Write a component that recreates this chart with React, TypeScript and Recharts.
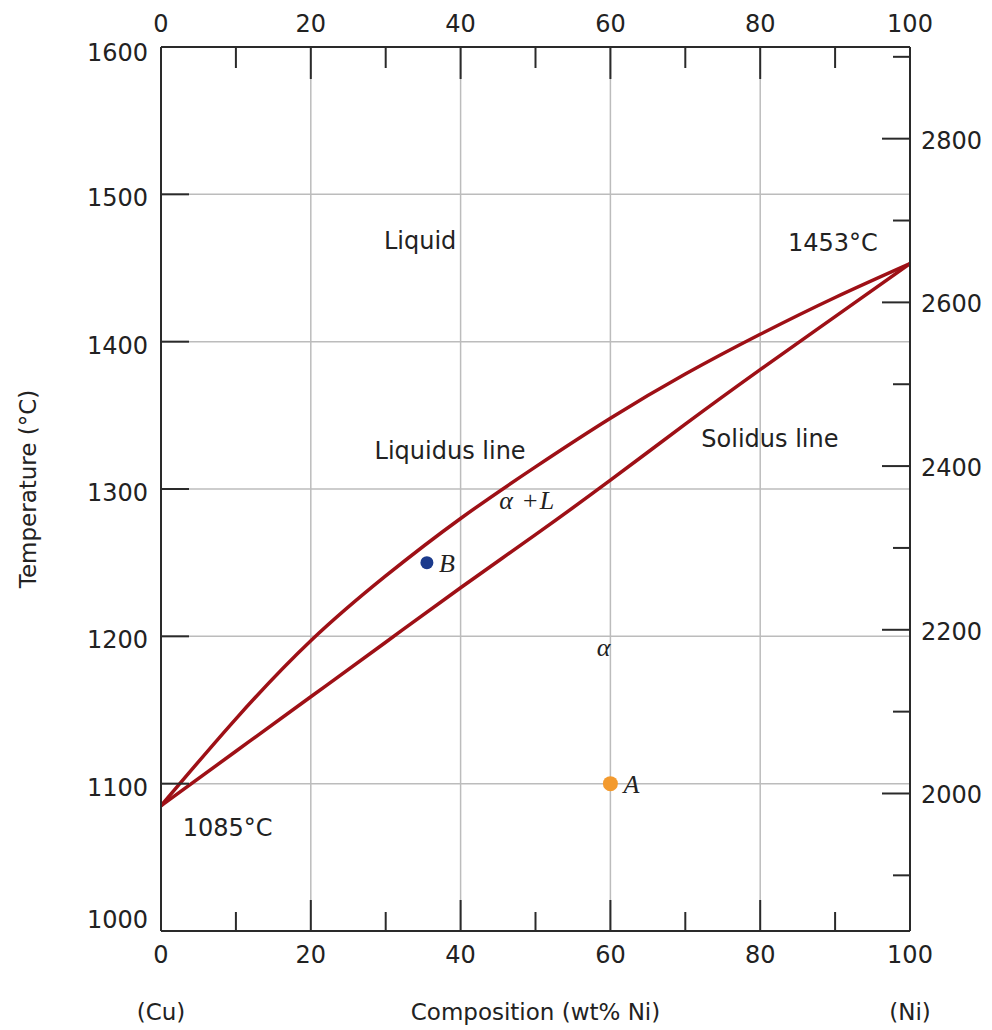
import { ComposedChart, Line, Scatter, XAxis, YAxis, CartesianGrid, ReferenceDot } from "recharts"

// composition, wt% Ni
const COMP = [0, 10, 20, 30, 40, 50, 60, 70, 80, 90, 100]
// temperatures in °C
const LIQUIDUS = [1085, 1144, 1197, 1241, 1280, 1315, 1348, 1378, 1405, 1430, 1453]
const SOLIDUS = [1085, 1122, 1159, 1196, 1233, 1269, 1306, 1344, 1381, 1417, 1453]

const X_TICKS = [0, 10, 20, 30, 40, 50, 60, 70, 80, 90, 100]
const C_TICKS = [1000, 1100, 1200, 1300, 1400, 1500, 1600]
const F_TICKS = [1900, 2000, 2100, 2200, 2300, 2400, 2500, 2600, 2700, 2800, 2900]

const POINT_A = [{ x: 60, t: 1100 }]
const POINT_B = [{ x: 35.5, t: 1250 }]

const LABELS = [
  { text: "Liquid", x: 34.6, t: 1468 },
  { text: "1453°C", x: 89.7, t: 1467 },
  { text: "Liquidus line", x: 38.6, t: 1326 },
  { text: "Solidus line", x: 81.3, t: 1334 },
  { text: "1085°C", x: 8.9, t: 1070 },
]
const GREEK = [
  { text: "α +L", x: 48.9, t: 1292 },
  { text: "α", x: 59.1, t: 1192 },
]

const toF = (c: number) => (c * 9) / 5 + 32

const liquidusData = COMP.map((x, i) => ({ x, t: LIQUIDUS[i] }))
const solidusData = COMP.map((x, i) => ({ x, t: SOLIDUS[i] }))

const SANS = "DejaVu Sans"
const SERIF = "Liberation Serif"
const INK = "#222"
const AXIS = "#2a2a2a"
const CURVE = "#9e1016"
const FS = 24

const TopTick = (props: any) => {
  const { x, y, payload } = props
  const major = payload.value % 20 === 0
  return (
    <g>
      <line x1={x} x2={x} y1={y} y2={y + (major ? 32 : 21)} stroke={AXIS} strokeWidth={2} />
      {major && (
        <text x={x} y={y - 15} textAnchor="middle" fontFamily={SANS} fontSize={FS} fill={INK}>
          {payload.value}
        </text>
      )}
    </g>
  )
}

const BottomTick = (props: any) => {
  const { x, y, payload } = props
  const major = payload.value % 20 === 0
  return (
    <g>
      <line x1={x} x2={x} y1={y} y2={y - (major ? 31 : 19)} stroke={AXIS} strokeWidth={2} />
      {major && (
        <text x={x} y={y + 32} textAnchor="middle" fontFamily={SANS} fontSize={FS} fill={INK}>
          {payload.value}
        </text>
      )}
    </g>
  )
}

const LeftTick = (props: any) => {
  const { x, y, payload } = props
  const v = payload.value
  const dy = v === 1000 ? -3 : v === 1600 ? 14 : 12
  return (
    <g>
      <line x1={x} x2={x + 28} y1={y} y2={y} stroke={AXIS} strokeWidth={2} />
      <text x={x - 13} y={y + dy} textAnchor="end" fontFamily={SANS} fontSize={FS} fill={INK}>
        {v}
      </text>
    </g>
  )
}

const RightTick = (props: any) => {
  const { x, y, payload } = props
  const major = payload.value % 200 === 0
  return (
    <g>
      <line x1={x} x2={x - (major ? 28 : 17)} y1={y} y2={y} stroke={AXIS} strokeWidth={2} />
      {major && (
        <text x={x + 11} y={y + 10} textAnchor="start" fontFamily={SANS} fontSize={FS} fill={INK}>
          {payload.value}
        </text>
      )}
    </g>
  )
}

const dot = (color: string, name: string, r: number, gap: number) => (p: any) => (
  <g>
    <circle cx={p.cx} cy={p.cy} r={r} fill={color} />
    <text x={p.cx + gap} y={p.cy + 9} fontFamily={SERIF} fontStyle="italic" fontSize={26} fill={INK}>
      {name}
    </text>
  </g>
)

export default function App() {
  return (
    <div style={{ position: "absolute", left: 0, top: 0, background: "#fff" }}>
      <ComposedChart width={992} height={1030} margin={{ top: 0, right: 0, bottom: 0, left: 0 }}>
        <CartesianGrid
          xAxisId="b"
          yAxisId="c"
          stroke="#bcbcbc"
          strokeWidth={1.5}
          verticalValues={[20, 40, 60, 80]}
          horizontalValues={[1100, 1200, 1300, 1400, 1500]}
        />
        <XAxis
          xAxisId="b"
          dataKey="x"
          type="number"
          domain={[0, 100]}
          ticks={X_TICKS}
          interval={0}
          height={99}
          tickSize={0}
          tickMargin={0}
          tick={<BottomTick />}
          axisLine={{ stroke: AXIS, strokeWidth: 2 }}
          allowDataOverflow
          label={{
            content: (p: any) => {
              const vb = p.viewBox
              const y = 1020
              return (
                <g fontFamily={SANS} fontSize={23} fill={INK}>
                  <text x={vb.x} y={y} textAnchor="middle">(Cu)</text>
                  <text x={vb.x + vb.width / 2} y={y} textAnchor="middle">Composition (wt% Ni)</text>
                  <text x={vb.x + vb.width} y={y} textAnchor="middle">(Ni)</text>
                </g>
              )
            },
          }}
        />
        <XAxis
          xAxisId="t"
          orientation="top"
          dataKey="x"
          type="number"
          domain={[0, 100]}
          ticks={X_TICKS}
          interval={0}
          height={47}
          tickSize={0}
          tickMargin={0}
          tick={<TopTick />}
          axisLine={{ stroke: AXIS, strokeWidth: 2 }}
          allowDataOverflow
        />
        <YAxis
          yAxisId="c"
          dataKey="t"
          type="number"
          domain={[1000, 1600]}
          ticks={C_TICKS}
          interval={0}
          width={161}
          tickSize={0}
          tickMargin={0}
          tick={<LeftTick />}
          axisLine={{ stroke: AXIS, strokeWidth: 2 }}
          allowDataOverflow
          label={{
            content: (p: any) => {
              const vb = p.viewBox
              return (
                <text
                  transform={`translate(36, ${vb.y + vb.height / 2}) rotate(-90)`}
                  textAnchor="middle"
                  fontFamily={SANS}
                  fontSize={23}
                  fill={INK}
                >
                  Temperature (°C)
                </text>
              )
            },
          }}
        />
        <YAxis
          yAxisId="f"
          orientation="right"
          type="number"
          domain={[toF(1000), toF(1600)]}
          ticks={F_TICKS}
          interval={0}
          width={82}
          tickSize={0}
          tickMargin={0}
          tick={<RightTick />}
          axisLine={{ stroke: AXIS, strokeWidth: 2 }}
          allowDataOverflow
        />
        <Line
          xAxisId="b"
          yAxisId="c"
          data={liquidusData}
          dataKey="t"
          type="natural"
          stroke={CURVE}
          strokeWidth={3.5}
          dot={false}
          activeDot={false}
          isAnimationActive={false}
        />
        <Line
          xAxisId="b"
          yAxisId="c"
          data={solidusData}
          dataKey="t"
          type="natural"
          stroke={CURVE}
          strokeWidth={3.5}
          dot={false}
          activeDot={false}
          isAnimationActive={false}
        />
        {/* invisible series so the top axis has something to scale */}
        <Line
          xAxisId="t"
          yAxisId="c"
          data={solidusData}
          dataKey="t"
          stroke="none"
          dot={false}
          activeDot={false}
          isAnimationActive={false}
        />
        <Scatter xAxisId="b" yAxisId="c" data={POINT_B} dataKey="t" shape={dot("#1b3a8c", "B", 6.5, 12)} isAnimationActive={false} />
        <Scatter xAxisId="b" yAxisId="c" data={POINT_A} dataKey="t" shape={dot("#f39a2e", "A", 7.5, 13)} isAnimationActive={false} />
        {LABELS.map((l) => (
          <ReferenceDot
            key={l.text}
            xAxisId="b"
            yAxisId="c"
            x={l.x}
            y={l.t}
            r={0}
            shape={(p: any) => (
              <text x={p.cx} y={p.cy + 8} textAnchor="middle" fontFamily={SANS} fontSize={FS} fill={INK}>
                {l.text}
              </text>
            )}
          />
        ))}
        {GREEK.map((l) => (
          <ReferenceDot
            key={l.text}
            xAxisId="b"
            yAxisId="c"
            x={l.x}
            y={l.t}
            r={0}
            shape={(p: any) => (
              <text
                x={p.cx}
                y={p.cy + 8}
                textAnchor="middle"
                fontFamily={SERIF}
                fontStyle="italic"
                fontSize={26}
                letterSpacing={l.text.length > 1 ? 1 : 0}
                fill={INK}
              >
                {l.text}
              </text>
            )}
          />
        ))}
      </ComposedChart>
    </div>
  )
}
